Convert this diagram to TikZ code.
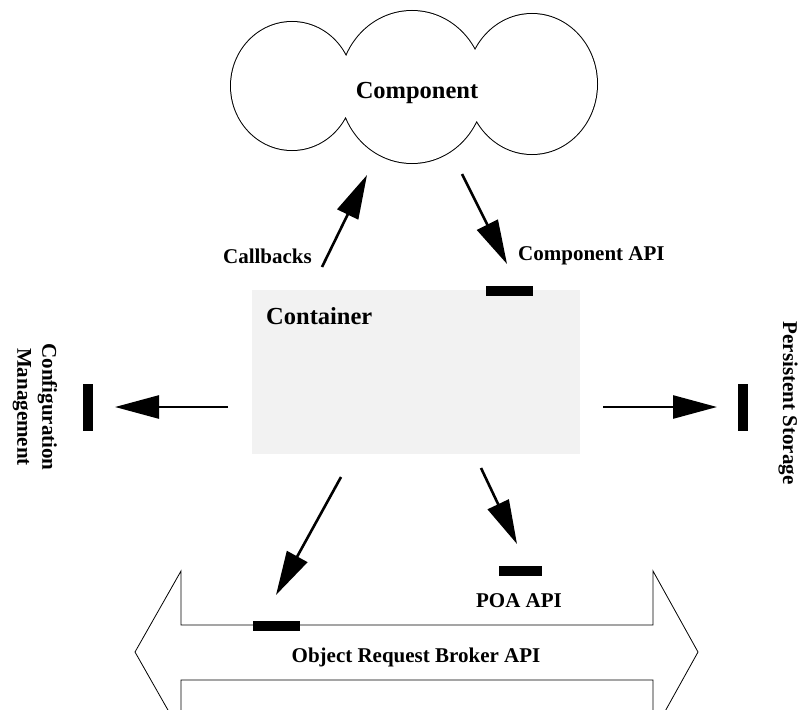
\documentclass[tikz,border=0pt]{standalone}
\usepackage{fontspec}
\setmainfont{Liberation Serif}
\usetikzlibrary{arrows.meta}
\definecolor{boxgray}{RGB}{242,242,242}
\tikzset{
  arr/.style={line width=2.6pt, -{Triangle[length=44pt,width=23pt]}},
  apibar/.style={fill=black, draw=none, inner sep=0pt, minimum width=47pt, minimum height=10pt},
  vbar/.style={fill=black, draw=none, inner sep=0pt, minimum width=10pt, minimum height=47pt},
  lbl/.style={font=\bfseries\fontsize{21}{25}\selectfont, inner sep=0pt},
  biglbl/.style={font=\bfseries\fontsize{24.5}{28}\selectfont, inner sep=0pt}
}
\begin{document}
\begin{tikzpicture}[x=1pt,y=-1pt]
\useasboundingbox (0,0) rectangle (799,709);
% cloud
\draw[line width=2pt] (292,86) ellipse [x radius=61, y radius=64]
                      (412,87) ellipse [x radius=72, y radius=76]
                      (532,84) ellipse [x radius=65, y radius=70];
\fill[white] (292,86) ellipse [x radius=61, y radius=64]
             (412,87) ellipse [x radius=72, y radius=76]
             (532,84) ellipse [x radius=65, y radius=70];
\node[biglbl] (comp) at (417,93) {Component};
% container
\node[fill=boxgray, draw=none, minimum width=328pt, minimum height=164pt, inner sep=0pt] (cont) at (416,372) {};
\node[biglbl, anchor=west] (contlbl) at (266,316) {Container};
\node[apibar] (capibar) at (509.5,291) {};
% top arrows
\coordinate (cbs) at (322,267);
\coordinate (cbe) at (367,175);
\draw[arr] (cbs) -- (cbe);
\node[lbl, anchor=east] (cblbl) at (312,256) {Callbacks};
\coordinate (cas) at (462,174);
\coordinate (cae) at (507,264);
\draw[arr] (cas) -- (cae);
\node[lbl, anchor=west] (calbl) at (518,256) {Component API};
% left
\coordinate (ls) at (228,407);
\coordinate (le) at (115,407);
\draw[arr] (ls) -- (le);
\node[vbar] (lbar) at (88,407.5) {};
\node[lbl, rotate=-90, align=center] (cfg) at (35,407) {Configuration\\Management};
% right
\coordinate (rs) at (603,407);
\coordinate (re) at (717,407);
\draw[arr] (rs) -- (re);
\node[vbar] (rbar) at (743,407.5) {};
\node[lbl, rotate=-90] (ps) at (788,403) {Persistent Storage};
% ORB double arrow
\begin{scope}
\clip (0,0) rectangle (799,709);
\draw[line width=0.8pt, fill=white] (135,652) -- (181,571) -- (181,625) -- (653,625) -- (653,571) -- (698,652) -- (653,733) -- (653,680) -- (181,680) -- (181,733) -- cycle;
\end{scope}
\node[lbl] (orb) at (416,657) {Object Request Broker API};
\node[apibar] (orbbar) at (276.5,625.5) {};
% bottom arrows
\coordinate (bls) at (341,477);
\coordinate (ble) at (276,595);
\draw[arr] (bls) -- (ble);
\coordinate (ps1) at (481,468);
\coordinate (pe1) at (517,544);
\draw[arr] (ps1) -- (pe1);
\node[apibar, minimum width=43pt] (poabar) at (520.5,571) {};
\node[lbl] (poa) at (519,601) {POA API};
\end{tikzpicture}
\end{document}
